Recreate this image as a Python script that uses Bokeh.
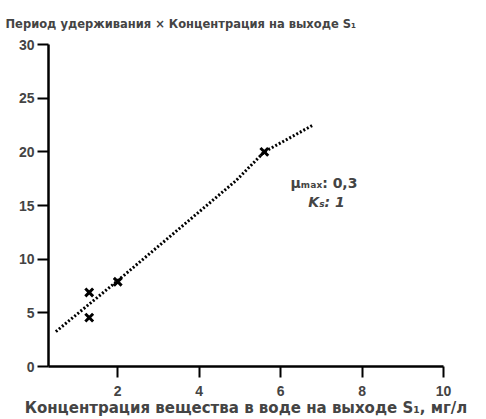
from bokeh.plotting import figure
from bokeh.models import Label, FixedTicker, Range1d
from bokeh.embed import file_html
from bokeh.resources import INLINE

# data
line_x = [0.48, 2.0, 4.9, 5.6, 6.8]
line_y = [3.25, 8.0, 17.3, 20.0, 22.5]
cross_x = [1.3, 1.3, 2.0, 5.6]
cross_y = [6.9, 4.55, 7.9, 20.0]
x_ticks = [2, 4, 6, 8, 10]
y_ticks = [0, 5, 10, 15, 20, 25, 30]
title_text = "Период удерживания × Концентрация на выходе S₁"
x_title = "Концентрация вещества в воде на выходе S₁, мг/л"
param1 = "μₘₐₓ: 0,3"
param2 = "Kₛ: 1"

FONT = "Liberation Sans"
WIDE = "DejaVu Sans"

p = figure(width=478, height=419, x_range=Range1d(0.3, 10), y_range=Range1d(0, 30),
           output_backend="svg", toolbar_location=None,
           min_border_left=48, min_border_right=35, min_border_bottom=52, min_border_top=44)
p.outline_line_color = None
p.grid.visible = False

p.title.text = title_text
p.title.text_font = WIDE
p.title.text_font_size = "11.5px"
p.title.text_font_style = "bold"
p.title.align = "left"
p.title.offset = -43
p.title.standoff = 27

for ax in (p.xaxis[0], p.yaxis[0]):
    ax.axis_line_width = 2.5
    ax.major_tick_line_width = 2
    ax.major_tick_out = 11
    ax.major_tick_in = 0
    ax.minor_tick_line_color = None
    ax.major_label_text_font = FONT
    ax.major_label_text_font_size = "14px"
    ax.major_label_text_font_style = "bold"
    ax.axis_label_text_font = WIDE
    ax.axis_label_text_font_style = "bold"
    ax.axis_label_text_font_size = "15px"

p.xaxis.ticker = FixedTicker(ticks=x_ticks)
p.yaxis.ticker = FixedTicker(ticks=y_ticks)
p.xaxis.major_label_standoff = 8
p.xaxis.axis_label = x_title
p.xaxis.axis_label_standoff = 0
p.yaxis.major_label_standoff = 3

p.line(line_x, line_y, line_color="black", line_width=3, line_dash="2 2")
p.scatter(cross_x, cross_y, marker="x", size=11, line_color="black", line_width=3)

p.add_layout(Label(x=6.24, y=16.35, text=param1, text_font=WIDE, text_font_size="14px",
                   text_font_style="bold"))
p.add_layout(Label(x=6.68, y=14.6, text=param2, text_font=WIDE, text_font_size="14px",
                   text_font_style="bold italic"))

open("out.html", "w").write(file_html(p, INLINE))
